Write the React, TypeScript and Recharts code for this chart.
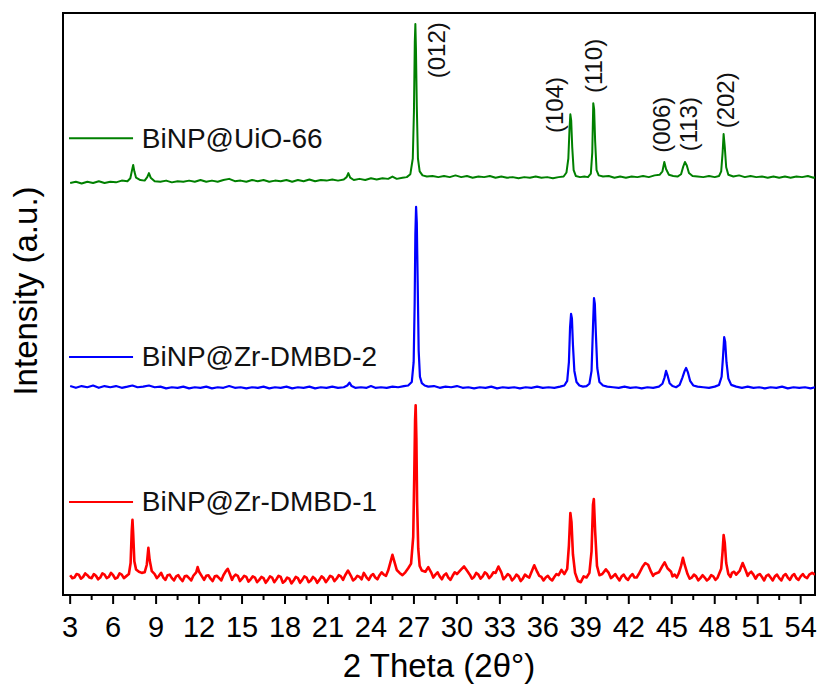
import { LineChart, Line, XAxis, YAxis, ReferenceArea, ReferenceDot, ReferenceLine, Label } from "recharts";

// XRD patterns, [2θ, intensity] in stacked plot units (0–100)
const uioPattern: [number, number][] = [
  [3.0, 70.8], [3.4, 71.0], [3.8, 70.7], [4.2, 71.0], [4.6, 70.8], [5.0, 71.1], [5.4, 70.8], [5.8, 71.0],
  [6.2, 70.9], [6.6, 71.2], [7.0, 71.1], [7.2, 71.6], [7.32, 73.0], [7.4, 73.9], [7.48, 72.8], [7.6, 71.7],
  [7.9, 71.3], [8.2, 71.2], [8.38, 71.8], [8.5, 72.5], [8.62, 71.7], [8.9, 71.1], [9.3, 71.0], [9.7, 71.2],
  [10.1, 70.9], [10.5, 71.1], [10.9, 71.0], [11.3, 71.2], [11.7, 71.0], [12.1, 71.3], [12.5, 71.0], [12.9, 71.2],
  [13.3, 71.0], [13.7, 71.3], [14.1, 71.5], [14.5, 71.1], [14.9, 71.2], [15.3, 71.0], [15.7, 71.3], [16.1, 71.1],
  [16.5, 71.3], [16.9, 71.0], [17.3, 71.2], [17.7, 71.1], [18.1, 71.3], [18.5, 71.0], [18.9, 71.3], [19.3, 71.1],
  [19.7, 71.4], [20.1, 71.1], [20.5, 71.3], [20.9, 71.2], [21.3, 71.4], [21.7, 71.2], [22.1, 71.4], [22.3, 71.8],
  [22.42, 72.5], [22.55, 71.7], [22.8, 71.3], [23.2, 71.5], [23.6, 71.3], [24.0, 71.6], [24.4, 71.4], [24.8, 71.6],
  [25.2, 71.5], [25.5, 71.9], [25.8, 71.5], [26.2, 71.7], [26.5, 71.8], [26.75, 72.3], [26.92, 75.0], [27.0, 83.0],
  [27.06, 95.0], [27.1, 98.1], [27.14, 94.0], [27.2, 84.0], [27.28, 75.0], [27.4, 72.8], [27.6, 72.1], [27.9, 71.9],
  [28.3, 72.0], [28.7, 71.8], [29.1, 72.0], [29.5, 71.8], [29.9, 72.1], [30.3, 71.8], [30.7, 72.0], [31.1, 71.7],
  [31.5, 71.9], [31.9, 71.8], [32.3, 72.0], [32.7, 71.7], [33.1, 71.9], [33.5, 71.7], [33.9, 71.8], [34.3, 71.6],
  [34.7, 71.8], [35.1, 71.7], [35.5, 71.9], [35.9, 71.7], [36.3, 71.8], [36.7, 71.6], [37.1, 71.8], [37.45, 71.9],
  [37.65, 72.6], [37.78, 75.0], [37.86, 80.0], [37.92, 82.6], [37.98, 81.5], [38.05, 77.0], [38.15, 73.0], [38.3, 72.0],
  [38.6, 71.8], [38.9, 71.9], [39.15, 71.8], [39.35, 72.4], [39.45, 76.0], [39.52, 84.5], [39.58, 83.5], [39.65, 78.0],
  [39.75, 73.0], [39.9, 72.1], [40.2, 71.9], [40.6, 72.0], [41.0, 71.7], [41.4, 71.9], [41.8, 71.7], [42.2, 71.9],
  [42.6, 71.8], [43.0, 72.0], [43.4, 71.8], [43.8, 72.1], [44.15, 72.2], [44.35, 72.8], [44.48, 74.4], [44.6, 73.2],
  [44.8, 72.2], [45.1, 72.0], [45.4, 71.9], [45.65, 72.3], [45.8, 73.6], [45.92, 74.4], [46.05, 73.8], [46.2, 72.5],
  [46.45, 72.0], [46.8, 71.9], [47.2, 71.8], [47.6, 72.0], [48.0, 71.8], [48.3, 72.0], [48.45, 72.8], [48.55, 76.0],
  [48.62, 79.2], [48.7, 77.0], [48.8, 73.5], [48.95, 72.2], [49.3, 71.9], [49.7, 72.1], [50.1, 71.8], [50.5, 72.0],
  [50.9, 71.8], [51.3, 71.9], [51.7, 71.7], [52.1, 71.9], [52.5, 71.7], [52.9, 71.9], [53.3, 71.7], [53.7, 71.9],
  [54.1, 71.8], [54.5, 72.0], [54.9, 71.7], [55.0, 71.8],
];

const dmbd2Pattern: [number, number][] = [
  [3.0, 35.9], [3.4, 35.6], [3.8, 35.9], [4.2, 35.7], [4.6, 36.0], [5.0, 35.6], [5.4, 35.9], [5.8, 35.7],
  [6.2, 35.9], [6.6, 35.6], [7.0, 35.8], [7.35, 36.0], [7.7, 35.7], [8.1, 35.8], [8.5, 36.0], [8.9, 35.7],
  [9.3, 35.8], [9.7, 35.5], [10.1, 35.7], [10.5, 35.6], [10.9, 35.8], [11.3, 35.5], [11.7, 35.7], [12.1, 35.6],
  [12.5, 35.8], [12.9, 35.5], [13.3, 35.7], [13.7, 35.6], [14.1, 35.9], [14.5, 35.6], [14.9, 35.7], [15.3, 35.5],
  [15.7, 35.7], [16.1, 35.6], [16.5, 35.8], [16.9, 35.5], [17.3, 35.7], [17.7, 35.6], [18.1, 35.8], [18.5, 35.5],
  [18.9, 35.7], [19.3, 35.6], [19.7, 35.8], [20.1, 35.5], [20.5, 35.7], [20.9, 35.6], [21.3, 35.8], [21.7, 35.6],
  [22.1, 35.7], [22.35, 36.0], [22.5, 36.5], [22.65, 35.9], [22.9, 35.6], [23.3, 35.7], [23.7, 35.6], [24.0, 35.9],
  [24.3, 35.6], [24.7, 35.7], [25.1, 35.6], [25.5, 35.8], [25.9, 35.7], [26.3, 35.9], [26.6, 36.0], [26.85, 36.6],
  [26.98, 40.0], [27.05, 50.0], [27.1, 62.0], [27.15, 66.7], [27.2, 64.0], [27.26, 54.0], [27.33, 42.0], [27.42, 37.5],
  [27.55, 36.4], [27.75, 36.0], [28.0, 35.8], [28.4, 35.9], [28.8, 35.6], [29.2, 35.8], [29.6, 35.7], [30.0, 35.9],
  [30.4, 35.6], [30.8, 35.7], [31.2, 35.5], [31.6, 35.7], [32.0, 35.6], [32.4, 35.8], [32.8, 35.5], [33.2, 35.7],
  [33.6, 35.6], [34.0, 35.7], [34.4, 35.5], [34.8, 35.7], [35.2, 35.6], [35.6, 35.8], [36.0, 35.6], [36.4, 35.7],
  [36.8, 35.6], [37.2, 35.8], [37.5, 36.0], [37.7, 36.8], [37.82, 40.0], [37.9, 46.0], [37.97, 48.3], [38.03, 47.5],
  [38.1, 43.0], [38.2, 38.5], [38.35, 36.6], [38.55, 36.0], [38.8, 35.8], [39.05, 35.9], [39.25, 36.3], [39.4, 38.5],
  [39.5, 46.0], [39.57, 51.0], [39.63, 50.0], [39.7, 45.0], [39.8, 39.0], [39.95, 36.6], [40.2, 36.0], [40.5, 35.8],
  [40.9, 35.7], [41.3, 35.6], [41.7, 35.8], [42.1, 35.6], [42.5, 35.7], [42.9, 35.5], [43.3, 35.7], [43.7, 35.6],
  [44.1, 35.8], [44.35, 36.3], [44.5, 37.4], [44.6, 38.5], [44.72, 37.6], [44.85, 36.4], [45.05, 35.9], [45.3, 35.7],
  [45.55, 36.1], [45.75, 37.4], [45.9, 38.5], [46.0, 39.0], [46.12, 38.3], [46.28, 36.8], [46.5, 36.0], [46.8, 35.8],
  [47.2, 35.7], [47.6, 35.6], [48.0, 35.8], [48.3, 36.1], [48.48, 37.5], [48.58, 41.0], [48.66, 44.3], [48.73, 43.5],
  [48.82, 40.0], [48.95, 37.2], [49.15, 36.1], [49.5, 35.8], [49.9, 35.6], [50.3, 35.8], [50.7, 35.6], [51.1, 35.7],
  [51.5, 35.5], [51.9, 35.7], [52.3, 35.6], [52.7, 35.8], [53.1, 35.5], [53.5, 35.7], [53.9, 35.6], [54.3, 35.7],
  [54.7, 35.5], [55.0, 35.7],
];

const dmbd1Pattern: [number, number][] = [
  [3.0, 3.4], [3.15, 2.9], [3.3, 3.0], [3.45, 3.6], [3.6, 3.5], [3.75, 2.8], [3.9, 3.1], [4.05, 3.7],
  [4.2, 3.4], [4.35, 3.0], [4.5, 2.9], [4.65, 3.6], [4.8, 3.3], [4.95, 2.7], [5.1, 3.0], [5.25, 3.7],
  [5.4, 3.5], [5.55, 2.9], [5.7, 3.1], [5.85, 3.8], [6.0, 3.4], [6.15, 2.8], [6.3, 3.0], [6.45, 3.7],
  [6.6, 3.5], [6.75, 2.9], [6.9, 3.2], [7.1, 3.6], [7.22, 5.5],
  [7.3, 11.0], [7.35, 12.9], [7.4, 10.5], [7.48, 5.8], [7.6, 4.4], [7.8, 4.0], [8.0, 3.8], [8.2, 3.9],
  [8.35, 5.2], [8.46, 8.1], [8.55, 6.0], [8.7, 4.1], [8.9, 3.6], [9.05, 2.9], [9.2, 3.3], [9.35, 3.8],
  [9.5, 3.0], [9.65, 2.6], [9.8, 3.4], [9.95, 3.5], [10.1, 2.9], [10.25, 2.5], [10.4, 3.2], [10.55, 3.4],
  [10.7, 2.8], [10.85, 2.4], [11.0, 3.2], [11.15, 3.3], [11.3, 2.9], [11.45, 2.5], [11.6, 3.3], [11.8, 3.9],
  [11.9, 4.8], [12.0, 4.0], [12.2, 3.2], [12.35, 2.6], [12.5, 3.3], [12.65, 3.4], [12.8, 2.8], [12.95, 2.4],
  [13.1, 3.2], [13.25, 3.3], [13.4, 2.9], [13.55, 2.5], [13.7, 3.4], [13.9, 4.2],
  [14.0, 4.5], [14.15, 3.6], [14.3, 2.6], [14.4, 3.1], [14.55, 3.5], [14.7, 3.3], [14.85, 2.4], [15.0, 2.8],
  [15.15, 3.3], [15.3, 3.1], [15.45, 2.3], [15.6, 2.7], [15.75, 3.2], [15.9, 3.0], [16.05, 2.2], [16.2, 2.6],
  [16.35, 3.1], [16.5, 2.9], [16.65, 2.1], [16.8, 2.6], [16.95, 3.2], [17.1, 3.0], [17.25, 2.2], [17.4, 2.7],
  [17.55, 3.3], [17.7, 3.1], [17.85, 2.1], [18.0, 2.4], [18.15, 3.0], [18.3, 2.8], [18.45, 2.0], [18.6, 2.5],
  [18.75, 3.1], [18.9, 2.9], [19.05, 2.1], [19.2, 2.6], [19.35, 3.2], [19.5, 3.0], [19.65, 2.2], [19.8, 2.5],
  [19.95, 3.1], [20.1, 2.8], [20.25, 2.1], [20.4, 2.6], [20.55, 3.2], [20.7, 2.9], [20.85, 2.2], [21.0, 2.7],
  [21.15, 3.3], [21.3, 3.1], [21.45, 2.4], [21.6, 2.8], [21.75, 3.4], [21.9, 3.2], [22.05, 2.6], [22.2, 3.4],
  [22.4, 4.2], [22.6, 3.3], [22.75, 2.5], [22.9, 2.8], [23.05, 3.3], [23.2, 3.1], [23.35, 2.7], [23.5, 3.8],
  [23.7, 3.0], [23.85, 2.6], [24.0, 3.3], [24.15, 3.6], [24.3, 3.0], [24.45, 2.7], [24.6, 3.4], [24.75, 3.9],
  [24.9, 3.5], [25.05, 3.3], [25.2, 4.2],
  [25.4, 6.0], [25.5, 6.9], [25.65, 5.6], [25.8, 4.3], [26.0, 3.8], [26.2, 3.4], [26.4, 3.9], [26.6, 4.6],
  [26.8, 5.4], [26.95, 10.0], [27.02, 20.0], [27.08, 30.0], [27.12, 32.6], [27.17, 27.0], [27.22, 16.0], [27.3, 8.0],
  [27.4, 5.0], [27.55, 4.2], [27.8, 4.0], [28.0, 4.8], [28.2, 3.9], [28.35, 3.0], [28.5, 3.5], [28.65, 3.9],
  [28.8, 3.2], [28.95, 2.7], [29.1, 3.4], [29.25, 3.7], [29.4, 3.0], [29.55, 2.6], [29.7, 3.3], [29.85, 3.9],
  [30.0, 3.6], [30.3, 4.4], [30.5, 4.9], [30.7, 4.2], [30.9, 3.5], [31.05, 2.8], [31.2, 3.1], [31.35, 3.8],
  [31.5, 3.5], [31.65, 2.8], [31.8, 3.2], [31.95, 3.9], [32.1, 3.6], [32.25, 2.9], [32.4, 3.3], [32.55, 3.9],
  [32.7, 3.8], [32.9, 4.9], [33.1, 3.9], [33.25, 2.7], [33.4, 3.1], [33.55, 3.6], [33.7, 3.3], [33.85, 2.5],
  [34.0, 2.9], [34.15, 3.5], [34.3, 3.2], [34.45, 2.4], [34.6, 2.8], [34.75, 3.5], [34.9, 3.2], [35.05, 3.0],
  [35.2, 3.9], [35.4, 5.1], [35.6, 4.0], [35.75, 3.3], [35.9, 3.1], [36.05, 2.5], [36.2, 3.0], [36.35, 3.3],
  [36.5, 2.8], [36.65, 2.5], [36.8, 3.1], [36.95, 3.6], [37.1, 3.4], [37.3, 4.3], [37.5, 3.6], [37.7, 4.5],
  [37.82, 8.5], [37.92, 14.1], [38.0, 12.5], [38.1, 7.0], [38.25, 3.8], [38.45, 2.4], [38.65, 2.2], [38.85, 3.2],
  [39.05, 3.0], [39.25, 3.8], [39.4, 7.5], [39.5, 15.5], [39.56, 16.5], [39.65, 11.0], [39.78, 5.0], [39.95, 3.4],
  [40.15, 3.6], [40.4, 4.4], [40.6, 3.8], [40.75, 2.9], [40.9, 3.2], [41.05, 3.6], [41.2, 3.0], [41.35, 2.5],
  [41.5, 3.2], [41.65, 3.5], [41.8, 2.9], [41.95, 2.6], [42.1, 3.2], [42.25, 3.6], [42.4, 3.0], [42.55, 3.0],
  [42.7, 3.6], [42.95, 4.8], [43.15, 5.5], [43.35, 5.2], [43.55, 4.0], [43.7, 3.3], [43.8, 3.6], [44.1, 3.9],
  [44.35, 5.0], [44.5, 5.6], [44.7, 4.6], [44.95, 4.0], [45.05, 3.2], [45.2, 3.5], [45.35, 3.0], [45.5, 3.8],
  [45.65, 5.0], [45.78, 6.4], [45.9, 5.2], [46.1, 3.6], [46.25, 2.8], [46.4, 3.0], [46.55, 3.5], [46.7, 3.2],
  [46.85, 2.5], [47.0, 2.9], [47.15, 3.4], [47.3, 3.0], [47.45, 2.5], [47.6, 2.8], [47.75, 3.4], [47.9, 3.2],
  [48.05, 2.6], [48.2, 3.0], [48.45, 4.5], [48.55, 7.5], [48.62, 10.3], [48.7, 9.0], [48.8, 5.5], [48.95, 3.6],
  [49.1, 3.1], [49.2, 3.8], [49.35, 4.0], [49.5, 3.5], [49.75, 4.2], [49.95, 5.5], [50.15, 4.3], [50.3, 3.3],
  [50.4, 3.7], [50.55, 4.0], [50.7, 3.5], [50.85, 2.8], [51.0, 3.4], [51.15, 3.6], [51.3, 3.1], [51.45, 2.5],
  [51.6, 3.3], [51.75, 3.5], [51.9, 3.0], [52.05, 2.5], [52.2, 3.2], [52.35, 3.5], [52.5, 2.9], [52.65, 2.5],
  [52.8, 3.3], [52.95, 3.6], [53.1, 3.0], [53.25, 2.6], [53.4, 3.3], [53.55, 3.6], [53.7, 2.9], [53.85, 2.6],
  [54.0, 3.2], [54.15, 3.6], [54.3, 3.1], [54.45, 2.9], [54.6, 3.5], [54.8, 3.8], [55.0, 3.5],
];

const sampleNames = ["BiNP@UiO-66", "BiNP@Zr-DMBD-2", "BiNP@Zr-DMBD-1"];
const legendLevels = [78.5, 40.9, 16.0];

// Bi reflections, label anchor in (2θ, intensity)
const hklLabels = ["(012)", "(104)", "(110)", "(006)", "(113)", "(202)"];
const hklX = [28.61, 36.78, 39.57, 44.25, 46.2, 48.72];
const hklY = [93.6, 84.2, 90.9, 80.8, 80.9, 85.0];

const xMajorTicks = [3, 6, 9, 12, 15, 18, 21, 24, 27, 30, 33, 36, 39, 42, 45, 48, 51, 54];

const FONT = '"Liberation Sans", Arial, sans-serif';
const colors = ["#008000", "#0000ff", "#ff0000"];
const widths = [2, 2.2, 2.6];

const toPoints = (p: [number, number][]) => p.map(([x, y]) => ({ x, y }));
const patterns = [uioPattern, dmbd2Pattern, dmbd1Pattern].map(toPoints);

// majors plus a minor tick halfway between each pair
const allTicks = xMajorTicks.flatMap((t) => (t < 54 ? [t, t + 1.5] : [t]));

function XTick({ x, y, payload }: any) {
  const v = payload.value;
  const major = v % 3 === 0;
  return (
    <g>
      <line x1={x} x2={x} y1={y} y2={y + (major ? 9 : 5)} stroke="#000" strokeWidth={2} />
      {major && (
        <text x={x} y={y + 42} textAnchor="middle" fontSize={29} fontFamily={FONT} fill="#000">
          {v}
        </text>
      )}
    </g>
  );
}

function YTitle({ viewBox }: any) {
  const cx = viewBox.x + 37;
  const cy = viewBox.y + viewBox.height / 2 - 13;
  return (
    <text x={cx} y={cy} transform={`rotate(-90 ${cx} ${cy})`} textAnchor="middle" fontSize={33} fontFamily={FONT} fill="#000">
      Intensity (a.u.)
    </text>
  );
}

export default function App() {
  return (
    <div style={{ position: "absolute", left: 0, top: 0, background: "#fff" }}>
      <LineChart width={818} height={686} margin={{ top: 13, right: 3, bottom: 0, left: 0 }}>
        <XAxis
          dataKey="x"
          type="number"
          domain={[2.5, 55]}
          ticks={allTicks}
          interval={0}
          allowDataOverflow
          height={91}
          axisLine={false}
          tickLine={false}
          tickSize={0}
          tickMargin={0}
          tick={<XTick />}
        >
          <Label value="2 Theta (2θ°)" position="insideBottom" offset={9} fontSize={33} fontFamily={FONT} fill="#000" />
        </XAxis>
        <YAxis type="number" domain={[0, 100]} width={63} axisLine={false} tick={false} tickLine={false}>
          <Label content={<YTitle />} />
        </YAxis>

        {patterns.map((data, i) => (
          <Line
            key={sampleNames[i]}
            data={data}
            dataKey="y"
            type="linear"
            stroke={colors[i]}
            strokeWidth={widths[i]}
            strokeLinejoin="round"
            dot={false}
            activeDot={false}
            isAnimationActive={false}
          />
        ))}

        {sampleNames.map((name, i) => (
          <ReferenceLine
            key={`leg-${name}`}
            segment={[
              { x: 2.92, y: legendLevels[i] },
              { x: 7.39, y: legendLevels[i] },
            ]}
            stroke={colors[i]}
            strokeWidth={2}
          />
        ))}
        {sampleNames.map((name, i) => (
          <ReferenceDot
            key={`legt-${name}`}
            x={8.0}
            y={legendLevels[i]}
            r={0}
            shape={(p: any) => (
              <text x={p.cx} y={p.cy} dominantBaseline="central" fontSize={28} fontFamily={FONT} fill="#111">
                {name}
              </text>
            )}
          />
        ))}

        {hklLabels.map((hkl, i) => (
          <ReferenceDot
            key={hkl}
            x={hklX[i]}
            y={hklY[i]}
            r={0}
            shape={(p: any) => (
              <text
                x={p.cx}
                y={p.cy}
                transform={`rotate(-90 ${p.cx} ${p.cy})`}
                textAnchor="middle"
                dominantBaseline="central"
                fontSize={24}
                fontFamily={FONT}
                fill="#111"
              >
                {hkl}
              </text>
            )}
          />
        ))}

        <ReferenceArea x1={2.5} x2={55} y1={0} y2={100} fill="none" stroke="#000" strokeWidth={2} />
      </LineChart>
    </div>
  );
}
